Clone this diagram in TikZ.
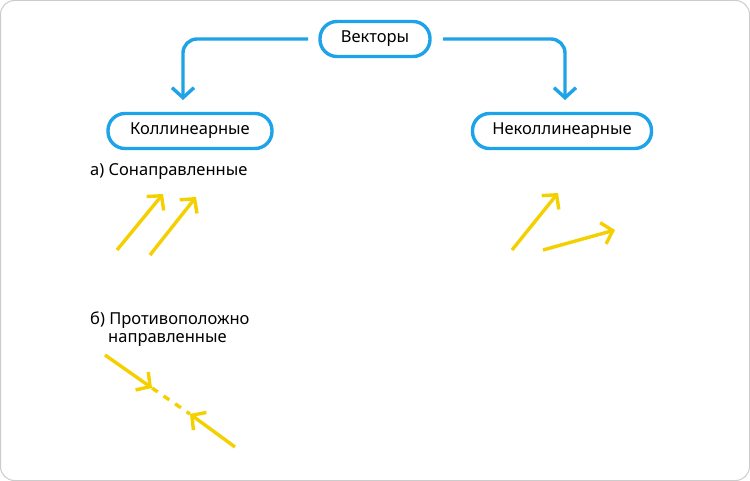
\documentclass[tikz,border=0pt]{standalone}
\usepackage{fontspec}
\setmainfont{Noto Sans}
\usetikzlibrary{arrows.meta}
\definecolor{cblue}{HTML}{1FA3E8}
\definecolor{cyel}{HTML}{F5D000}
\tikzset{
 box/.style={draw=cblue,line width=3.4pt,rounded corners=17pt,minimum height=35pt,inner xsep=14pt,font=\fontsize{16.5}{18}\selectfont},
 conn/.style={draw=cblue,line width=3.4pt,rounded corners=14pt,-{Straight Barb[length=10pt,width=22pt,line width=3.4pt]}},
 yarr/.style={draw=cyel,line width=3.4pt,-{Straight Barb[length=10pt,width=22pt,line width=3.4pt]}},
 lbl/.style={anchor=west,font=\fontsize{16.5}{18}\selectfont,inner sep=0pt}
}
\begin{document}
\begin{tikzpicture}[x=1pt,y=-1pt]
\draw[draw=gray!40,fill=white,rounded corners=14pt,line width=1pt] (0.5,0.5) rectangle (749.5,480.5);
\useasboundingbox (0,0) rectangle (750,481);
\node[box,minimum width=110pt] (v) at (375,39) {Векторы};
\node[box,minimum width=164pt] (k) at (190,131) {Коллинеарные};
\node[box,minimum width=179pt] (n) at (562,131) {Неколлинеарные};
\coordinate (vl) at (308,39);
\coordinate (vr) at (443,39);
\coordinate (kt) at (183,100);
\coordinate (nt) at (565,100);
\draw[conn] (vl) -- (183,39) -- (kt);
\draw[conn] (vr) -- (565,39) -- (nt);
\node[lbl] (ta) at (90,172) {а) Сонаправленные};
\node[lbl] (tb) at (90,320) {б) Противоположно};
\node[lbl] (tc) at (108,340) {направленные};
\coordinate (a1s) at (117,250); \coordinate (a1e) at (163,194);
\coordinate (a2s) at (150,255); \coordinate (a2e) at (196,197);
\coordinate (b1s) at (512,250); \coordinate (b1e) at (558,193);
\coordinate (b2s) at (543,250); \coordinate (b2e) at (615,230);
\draw[yarr] (a1s) -- (a1e);
\draw[yarr] (a2s) -- (a2e);
\draw[yarr] (b1s) -- (b1e);
\draw[yarr] (b2s) -- (b2e);
\coordinate (c1s) at (105,355); \coordinate (c1e) at (152,388);
\coordinate (c2s) at (235,447); \coordinate (c2e) at (190,414);
\draw[yarr] (c1s) -- (c1e);
\draw[yarr] (c2s) -- (c2e);
\draw[draw=cyel,line width=3.4pt,dash pattern=on 7pt off 7pt] (c1e) -- (c2e);
\end{tikzpicture}
\end{document}
